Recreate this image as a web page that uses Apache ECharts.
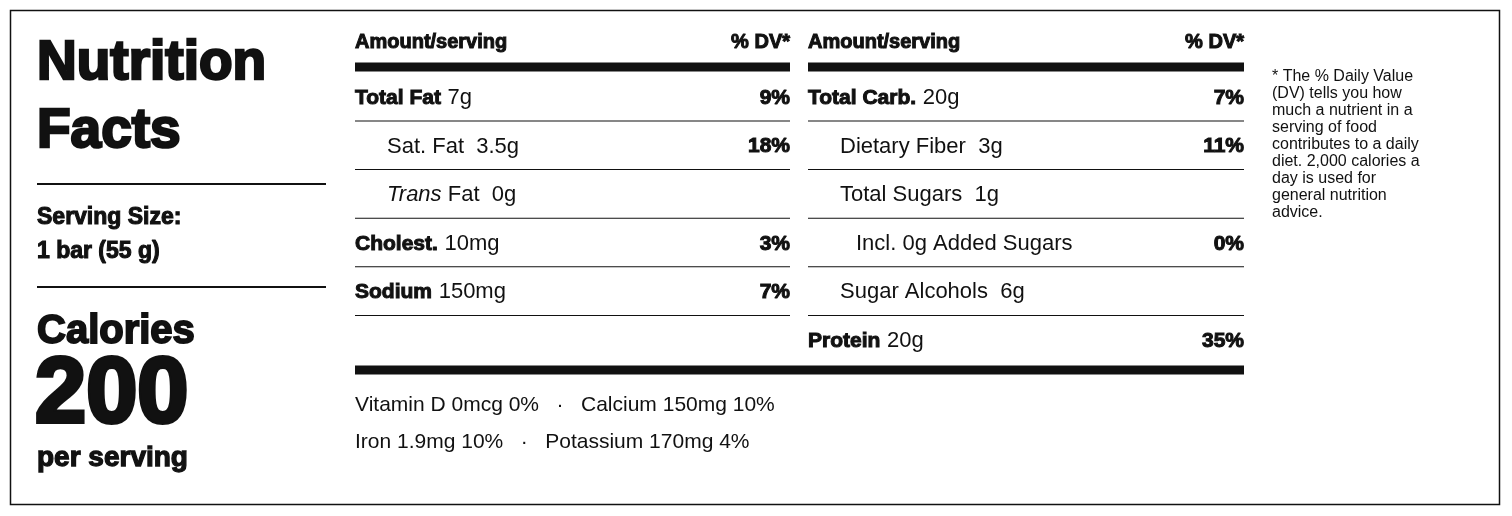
<!DOCTYPE html>
<html>
<head>
<meta charset="utf-8">
<script src="https://cdn.jsdelivr.net/npm/echarts@6/dist/echarts.min.js"></script>
<style>html,body{margin:0;background:#fff}#chart{width:1512px;height:516px}</style>
</head>
<body>
<div id="chart"></div>
<script>
'use strict';
// rows: [bold label, amount, %DV, indent, italic prefix]
var leftRows = [
  ['Total Fat', '7g', '9%', 0, ''],
  ['', 'Sat. Fat  3.5g', '18%', 1, ''],
  ['', ' Fat  0g', '', 1, 'Trans'],
  ['Cholest.', '10mg', '3%', 0, ''],
  ['Sodium', '150mg', '7%', 0, '']
];
var rightRows = [
  ['Total Carb.', '20g', '7%', 0],
  ['', 'Dietary Fiber  3g', '11%', 1],
  ['', 'Total Sugars  1g', '', 1],
  ['', 'Incl. 0g Added Sugars', '0%', 2],
  ['', 'Sugar Alcohols  6g', '', 1],
  ['Protein', '20g', '35%', 0]
];
var vitaminLines = ['Vitamin D 0mcg 0%   ·   Calcium 150mg 10%', 'Iron 1.9mg 10%   ·   Potassium 170mg 4%'];
var footnote = ['* The % Daily Value', '(DV) tells you how', 'much a nutrient in a', 'serving of food',
  'contributes to a daily', 'diet. 2,000 calories a', 'day is used for', 'general nutrition', 'advice.'];

var FONT = '"Liberation Sans", Arial, sans-serif';
var g = [];
function heavy(size) { return { fontSize: size, fontWeight: 'bold', fontFamily: FONT, fill: '#111', stroke: '#111', lineWidth: Math.max(1, size / 22) }; }
function txt(x, y, s, size, black, align, style) {
  var st = black ? heavy(size) : { fontSize: size, fontFamily: FONT, fill: '#111', fontStyle: style || 'normal' };
  st.text = s; st.align = align || 'left'; st.verticalAlign = 'middle';
  g.push({ type: 'text', x: x, y: y, style: st });
}
function line(x1, y, x2, w) {
  g.push({ type: 'rect', shape: { x: x1, y: y - w / 2, width: x2 - x1, height: w }, style: { fill: '#111' } });
}
g.push({ type: 'rect', shape: { x: 10.5, y: 10.5, width: 1489, height: 494 }, style: { fill: 'none', stroke: '#111', lineWidth: 1.5 } });

// left block
txt(37, 64, 'Nutrition', 55, true);
txt(37, 132, 'Facts', 55, true);
line(37, 184, 326, 2);
txt(37, 218, 'Serving Size:', 23, true);
txt(37, 252, '1 bar (55 g)', 23, true);
line(37, 287, 326, 2);
txt(37, 332, 'Calories', 40, true);
txt(35, 397, '200', 92, true);
txt(37, 458, 'per serving', 28, true);

function table(rows, x1, x2) {
  txt(x1, 42, 'Amount/serving', 20, true);
  txt(x2, 42, '% DV*', 20, true, 'right');
  line(x1, 67, x2, 9);
  rows.forEach(function (r, i) {
    var y = 98 + i * 48.6;
    var x = x1 + (r[3] === 1 ? 32 : r[3] === 2 ? 48 : 0);
    var n = { fontSize: 22, fill: '#111', fontFamily: FONT };
    if (r[0]) {
      g.push({ type: 'text', x: x, y: y, style: { text: '{b|' + r[0] + '}  {n|' + r[1] + '}', verticalAlign: 'middle',
        rich: { b: heavy(21), n: n } } });
    } else if (r[4]) {
      g.push({ type: 'text', x: x, y: y, style: { text: '{i|' + r[4] + '}{n|' + r[1] + '}', verticalAlign: 'middle',
        rich: { i: { fontSize: 22, fontStyle: 'italic', fill: '#111', fontFamily: FONT }, n: n } } });
    } else {
      txt(x, y, r[1], 22);
    }
    if (r[2]) txt(x2, y, r[2], 21, true, 'right');
    if (i < rows.length - 1 || rows.length < 6) line(x1, y + 23, x2, 1);
  });
}
table(leftRows, 355, 790);
table(rightRows, 808, 1244);
line(355, 370, 1244, 9);
vitaminLines.forEach(function (s, i) { txt(355, 405 + i * 37, s, 21); });
footnote.forEach(function (s, i) { txt(1272, 77 + i * 17, s, 16); });

var chart = echarts.init(document.getElementById('chart'));
chart.setOption({ animation: false, graphic: g });
</script>
</body>
</html>
